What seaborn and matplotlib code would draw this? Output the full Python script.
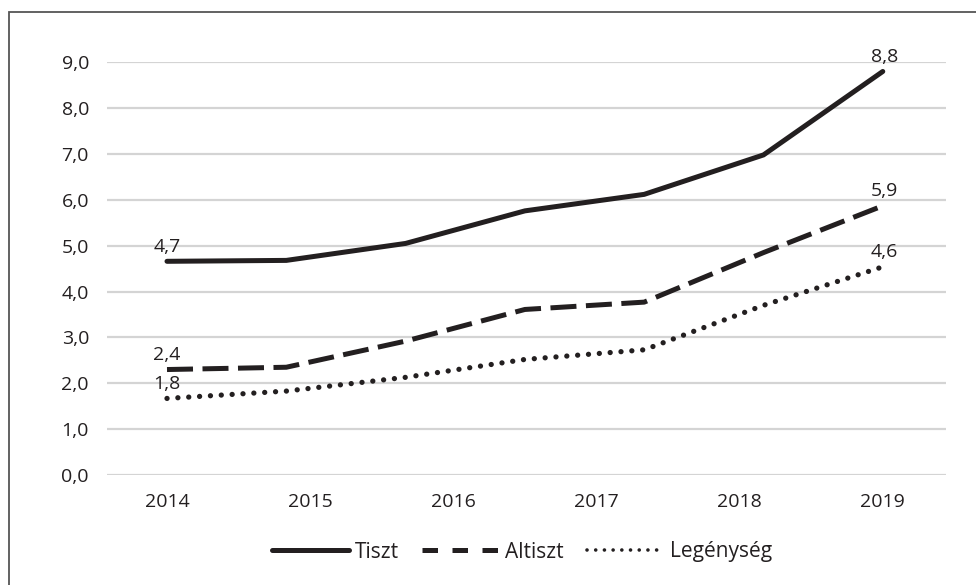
import matplotlib
matplotlib.use("Agg")
import numpy as np
import matplotlib.pyplot as plt
from matplotlib.lines import Line2D
from matplotlib.patches import Rectangle
import seaborn as sns

# data (7 points per series, 6 year labels on the axis)
years = ["2014", "2015", "2016", "2017", "2018", "2019"]
points = [0, 1, 2, 3, 4, 5, 6]
tiszt = [4.66, 4.68, 5.05, 5.76, 6.12, 6.98, 8.8]
altiszt = [2.3, 2.35, 2.92, 3.61, 3.77, 4.85, 5.87]
legenyseg = [1.67, 1.83, 2.13, 2.52, 2.73, 3.7, 4.54]
first_labels = ["4,7", "2,4", "1,8"]
last_labels = ["8,8", "5,9", "4,6"]
yticks = [0, 1, 2, 3, 4, 5, 6, 7, 8, 9]

ink = "#231f20"
grid = "#d4d4d4"
fs = 14

sns.set_style("white")
plt.rcParams["font.family"] = ["Open Sans", "DejaVu Sans"]
plt.rcParams["font.size"] = fs
plt.rcParams["text.color"] = ink

fig = plt.figure(figsize=(9.76, 5.85), dpi=100)
ax = fig.add_axes([107 / 976, 110 / 585, (946 - 107) / 976, (475 - 62.3) / 585])

series = [
    ("Tiszt", tiszt, "-", 3.6, "butt"),
    ("Altiszt", altiszt, (0, (5.2, 1.9)), 3.6, "butt"),
    ("Legénység", legenyseg, (0, (0.01, 2.05)), 3.8, "round"),
]

for name, vals, ls, lw, cap in series:
    sns.lineplot(x=points, y=vals, ax=ax, color=ink, linewidth=lw,
                 linestyle=ls, dash_capstyle=cap, solid_joinstyle="miter",
                 clip_on=False, zorder=3)

for vals, lab in zip([tiszt, altiszt, legenyseg], first_labels):
    ax.annotate(lab, (points[0], vals[0]), xytext=(0, 7), textcoords="offset points",
                ha="center", va="baseline", color=ink, fontsize=fs)
for vals, lab in zip([tiszt, altiszt, legenyseg], last_labels):
    ax.annotate(lab, (points[-1], vals[-1]), xytext=(1, 7), textcoords="offset points",
                ha="center", va="baseline", color=ink, fontsize=fs)

ax.set_xlim(points[0] - 0.503, points[-1] + 0.53)
ax.set_ylim(0, 9)
ax.set_yticks(yticks)
ax.set_yticklabels([f"{v:.1f}".replace(".", ",") for v in yticks])
ax.set_xticks(np.linspace(points[0], points[-1], len(years)))
ax.set_xticklabels(years)
ax.tick_params(axis="both", length=0, colors=ink, labelsize=fs)
ax.tick_params(axis="y", pad=13)
ax.tick_params(axis="x", pad=13)
ax.yaxis.grid(True, color=grid, linewidth=1.6)
ax.set_axisbelow(True)
for s in ax.spines.values():
    s.set_visible(False)
ax.set_xlabel("")
ax.set_ylabel("")

handles = [
    Line2D([], [], color=ink, lw=3.6, linestyle="-"),
    Line2D([], [], color=ink, lw=3.6, linestyle=(0, (3.1, 2.9))),
    Line2D([], [], color=ink, lw=2.6, linestyle=(0, (0.01, 2.4)), dash_capstyle="round"),
]
fig.legend(handles, ["Tiszt", "Altiszt", "Legénység"], loc="center",
           bbox_to_anchor=(522 / 976, 33 / 585), ncol=3, frameon=False,
           handlelength=3.7, handletextpad=0.3, columnspacing=1.1, fontsize=15)

# thin frame around the figure, open at the right and bottom like the source crop
fig.patches.append(Rectangle((8.5 / 976, -0.1), 1.2, (585 - 11.5) / 585 + 0.1,
                             transform=fig.transFigure, fill=False,
                             edgecolor="#555555", linewidth=1.3))

fig.savefig("out.png", dpi=100)
